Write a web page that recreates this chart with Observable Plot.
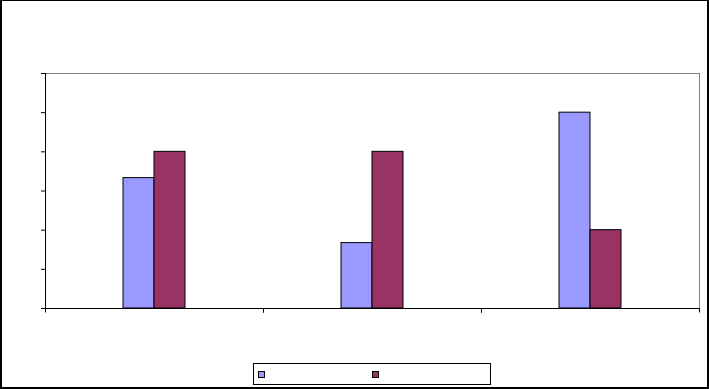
<!DOCTYPE html>
<html>
<head>
<meta charset="utf-8">
<script src="https://cdn.jsdelivr.net/npm/d3@7"></script>
<script src="https://cdn.jsdelivr.net/npm/@observablehq/plot@0.6"></script>
<style>
  html, body { margin: 0; padding: 0; background: #fff; }
  #wrap { position: relative; width: 709px; height: 389px; overflow: hidden; font-family: Arial, "Liberation Sans", sans-serif; }
  #chart { position: absolute; left: 0; top: 0; }
  #border { position: absolute; left: 0; top: 0; width: 709px; height: 389px; box-sizing: border-box;
            border-style: solid; border-color: #000; border-width: 1px 2px 2px 2px; pointer-events: none; }
  #legend { position: absolute; left: 253px; top: 363px; width: 238px; height: 22px; box-sizing: border-box;
            border: 1px solid #000; background: #fff; }
  .item { position: absolute; top: 7px; display: flex; align-items: center; font-size: 11px; }
  .sw { width: 7px; height: 7px; box-sizing: border-box; border: 1px solid #000; }
</style>
</head>
<body>
<div id="wrap">
  <div id="chart"></div>
  <div id="legend"></div>
  <div id="border"></div>
</div>
<script>
// ---- data ----
const categories = ["Category 1", "Category 2", "Category 3"];
const seriesNames = ["Series 1", "Series 2"];
const seriesColors = ["#9999FF", "#993366"];
const series1 = [3.33, 1.67, 5];
const series2 = [4, 4, 2];
const yTicks = [0, 1, 2, 3, 4, 5, 6];
const legendLabels = ["", ""];

const rows = [];
categories.forEach((c, i) => {
  rows.push({category: c, series: seriesNames[0], value: series1[i]});
  rows.push({category: c, series: seriesNames[1], value: series2[i]});
});

// short ticks under the category axis at each category boundary
function boundaryTicks(index, scales, values, dimensions) {
  const {width, height, marginLeft, marginRight, marginBottom} = dimensions;
  const y0 = height - marginBottom;
  const g = d3.create("svg:g").attr("stroke", "#000").attr("stroke-width", 1);
  for (const x of [marginLeft, width - marginRight]) {
    g.append("line").attr("x1", x + 0.5).attr("x2", x + 0.5).attr("y1", y0).attr("y2", y0 + 4.5);
  }
  return g.node();
}

const chart = Plot.plot({
  width: 709,
  height: 350,
  marginLeft: 44,
  marginRight: 10,
  marginTop: 73,
  marginBottom: 42,
  style: {background: "transparent"},
  fx: {domain: categories, padding: 0, axis: null, label: null},
  x: {domain: seriesNames, paddingInner: 0, paddingOuter: 2.41, axis: null, label: null},
  y: {domain: [0, 6], label: null, axis: null},
  color: {domain: seriesNames, range: seriesColors},
  marks: [
    Plot.ruleY([6], {stroke: "#808080"}),
    Plot.frame({anchor: "right", facetAnchor: "right", stroke: "#808080"}),
    Plot.barY(rows, {fx: "category", x: "series", y: "value", fill: "series", stroke: "#000", strokeWidth: 1}),
    Plot.ruleY([0], {stroke: "#000"}),
    Plot.frame({anchor: "left", facetAnchor: "left", stroke: "#000"}),
    Plot.axisY({ticks: yTicks, tickSize: 4, tickFormat: () => "", label: null, stroke: "#000"}),
    boundaryTicks
  ]
});
document.getElementById("chart").appendChild(chart);

// legend
const legend = document.getElementById("legend");
const offsets = [4, 118];
seriesNames.forEach((s, i) => {
  const item = document.createElement("div");
  item.className = "item";
  item.style.left = offsets[i] + "px";
  const sw = document.createElement("div");
  sw.className = "sw";
  sw.style.background = seriesColors[i];
  const lab = document.createElement("span");
  lab.textContent = legendLabels[i];
  lab.style.marginLeft = "4px";
  item.appendChild(sw);
  item.appendChild(lab);
  legend.appendChild(item);
});
</script>
</body>
</html>
